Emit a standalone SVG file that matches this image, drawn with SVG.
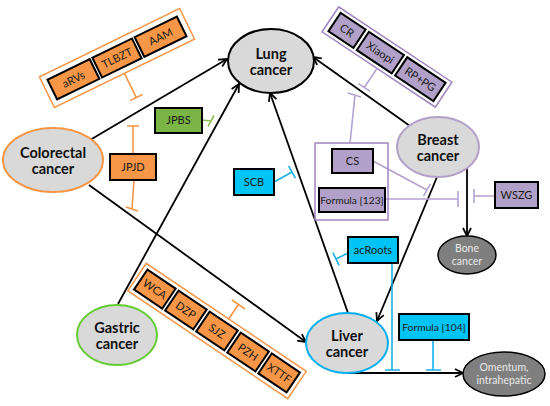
<svg xmlns="http://www.w3.org/2000/svg" width="550" height="406" viewBox="0 0 550 406">
<defs>
<marker id="ah" markerUnits="userSpaceOnUse" viewBox="0 0 10 10" refX="9" refY="5" markerWidth="10" markerHeight="10" orient="auto">
<path d="M1,1 L9,5 L1,9" fill="none" stroke="#000" stroke-width="1.8"/>
</marker>
<style>
.big{fill:#d9d9d9;stroke-width:2}
.dark{fill:#7f7f7f;stroke:#000;stroke-width:1.5}
.t{font-family:Lato,"Liberation Sans",sans-serif;font-weight:bold;font-size:14.5px;fill:#111;text-anchor:middle}
.s{font-family:Lato,"Liberation Sans",sans-serif;font-size:11px;fill:#1a1a1a;text-anchor:middle}
.f{font-size:10.3px}
.w{font-family:Lato,"Liberation Sans",sans-serif;font-size:10.5px;fill:#e8e8e8;text-anchor:middle}
.bo{fill:#f79646;stroke:#000;stroke-width:2}
.bp{fill:#b1a0c7;stroke:#000;stroke-width:2}
.bc{fill:#00c4f4;stroke:#000;stroke-width:2}
.bg{fill:#7bb545;stroke:#000;stroke-width:2}
.fo{fill:none;stroke:#f79646;stroke-width:1.5}
.fp{fill:none;stroke:#9f86c0;stroke-width:1.5}
.io{fill:none;stroke:#f79646;stroke-width:1.6}
.ip{fill:none;stroke:#b4a2d0;stroke-width:1.6}
.ic{fill:none;stroke:#1cb0e8;stroke-width:1.6}
.ig{fill:none;stroke:#8cc152;stroke-width:1.6}
.ar{fill:none;stroke:#000;stroke-width:1.8;marker-end:url(#ah)}
</style>
</defs>
<rect width="550" height="406" fill="#fff"/>

<g id="connectors">
<line class="ar" x1="90" y1="140" x2="227" y2="59"/>
<line class="ar" x1="118" y1="304" x2="239" y2="84"/>
<line class="ar" x1="348" y1="313" x2="270" y2="93"/>
<line class="ar" x1="410" y1="126" x2="313" y2="57"/>
<line class="ar" x1="89" y1="185" x2="306" y2="342"/>
<line class="ar" x1="437" y1="177" x2="377" y2="321"/>
<line class="ar" x1="467" y1="168" x2="467" y2="236"/>
<line class="ar" x1="348" y1="373" x2="463" y2="373"/>
<path class="io" d="M133,154 V126 M127,126 H139"/>
<path class="io" d="M134,180 L132,209 M126,207 L138,211"/>
<path class="ig" d="M202,120 L211,121 M208,126.5 L214,115.5"/>
<path class="ip" d="M350,143 L355,95 M348,93 L361,97"/>
<path class="ip" d="M373,161 L427,190 M430.5,183.8 L423.5,196.2"/>
<path class="ip" d="M385,199 H458 M458,191 V207"/>
<path class="ip" d="M495,196 H474 M474,189 V203"/>
<path class="ic" d="M274,182 L292,172 M288.6,165.9 L295.4,178.1"/>
<path class="ic" d="M348,253 L336,259 M332.9,252.7 L339.1,265.3"/>
<path class="ic" d="M392,263 V370 M385,370 H400"/>
<path class="ic" d="M433,340 V370 M426,370 H441"/>
</g>

<g id="lung"><ellipse class="big" cx="271" cy="61" rx="43" ry="32" stroke="#000"/><text class="t" x="271" y="59">Lung</text><text class="t" x="271" y="75">cancer</text></g>
<g id="colorectal"><ellipse class="big" cx="53" cy="160" rx="50" ry="32" stroke="#f79646"/><text class="t" x="53" y="158">Colorectal</text><text class="t" x="53" y="174">cancer</text></g>
<g id="gastric"><ellipse class="big" cx="117" cy="335" rx="40" ry="30" stroke="#66cc33"/><text class="t" x="117" y="333">Gastric</text><text class="t" x="117" y="349">cancer</text></g>
<g id="liver"><ellipse class="big" cx="347" cy="343" rx="41" ry="30" stroke="#00b0f0"/><text class="t" x="347" y="341">Liver</text><text class="t" x="347" y="357">cancer</text></g>
<g id="breast"><ellipse class="big" cx="438" cy="147" rx="41" ry="30" stroke="#b1a0c7"/><text class="t" x="438" y="145">Breast</text><text class="t" x="438" y="161">cancer</text></g>
<g id="bone"><ellipse class="dark" cx="467" cy="255" rx="29" ry="19"/><text class="w" x="467" y="252">Bone</text><text class="w" x="467" y="265">cancer</text></g>
<g id="omentum"><ellipse class="dark" cx="504" cy="374" rx="41" ry="22"/><text class="w" x="504" y="371">Omentum,</text><text class="w" x="504" y="384">intrahepatic</text></g>

<g id="orange-top" transform="translate(117,58) rotate(-26)">
<rect class="fo" x="-78" y="-17" width="156" height="34"/>
<rect class="bo" x="-72" y="-11" width="47" height="22"/><text class="s" x="-48.5" y="4">aRVs</text>
<rect class="bo" x="-22" y="-11" width="44" height="22"/><text class="s" x="0" y="4">TLBZT</text>
<rect class="bo" x="25" y="-11" width="47" height="22"/><text class="s" x="48.5" y="4">AAM</text>
<path class="io" d="M0,17 V44 M-7,44 H7"/>
</g>

<g id="purple-top" transform="translate(387,57) rotate(33.6)">
<rect class="fp" x="-68" y="-15" width="136" height="30"/>
<rect class="bp" x="-63" y="-11" width="30" height="22"/><text class="s" x="-48" y="4">CR</text>
<rect class="bp" x="-29" y="-11" width="42" height="22"/><text class="s" x="-8" y="4">Xiaopi</text>
<rect class="bp" x="17" y="-11" width="46" height="22"/><text class="s" x="40" y="4">RP+PG</text>
<path class="ip" d="M-2,15 V38 M-9,38 H5"/>
</g>

<g id="orange-bottom" transform="translate(217,331) rotate(34)">
<rect class="fo" x="-96.5" y="-16.5" width="193" height="33"/>
<rect class="bo" x="-92" y="-12" width="34" height="24"/><text class="s" x="-75" y="4">WCA</text>
<rect class="bo" x="-54.5" y="-12" width="34" height="24"/><text class="s" x="-37.5" y="4">DZP</text>
<rect class="bo" x="-17" y="-12" width="34" height="24"/><text class="s" x="0" y="4">SJZ</text>
<rect class="bo" x="20.5" y="-12" width="34" height="24"/><text class="s" x="37.5" y="4">PZH</text>
<rect class="bo" x="58" y="-12" width="34" height="24"/><text class="s" x="75" y="4">XTTF</text>
<path class="io" d="M3,-16.5 V-34 M-5,-34 H11"/>
</g>

<g id="cs-frame"><rect class="fp" x="315" y="143" width="73" height="77"/></g>
<g id="cs"><rect class="bp" x="332" y="149" width="41" height="24"/><text class="s" x="352.5" y="165">CS</text></g>
<g id="formula123"><rect class="bp" x="319" y="188" width="66" height="24"/><text class="s f" x="352" y="204">Formula [123]</text></g>
<g id="wszg"><rect class="bp" x="495" y="182" width="43" height="26"/><text class="s" x="516.5" y="199">WSZG</text></g>
<g id="jpbs"><rect class="bg" x="155" y="108" width="47" height="25"/><text class="s" x="178.5" y="124">JPBS</text></g>
<g id="jpjd"><rect class="bo" x="110" y="154" width="46" height="26"/><text class="s" x="133" y="171">JPJD</text></g>
<g id="scb"><rect class="bc" x="234" y="169" width="40" height="26"/><text class="s" x="254" y="186">SCB</text></g>
<g id="acroots"><rect class="bc" x="348" y="237" width="50" height="26"/><text class="s" x="373" y="254">acRoots</text></g>
<g id="formula104"><rect class="bc" x="399" y="314" width="70" height="26"/><text class="s f" x="434" y="331">Formula [104]</text></g>
</svg>
